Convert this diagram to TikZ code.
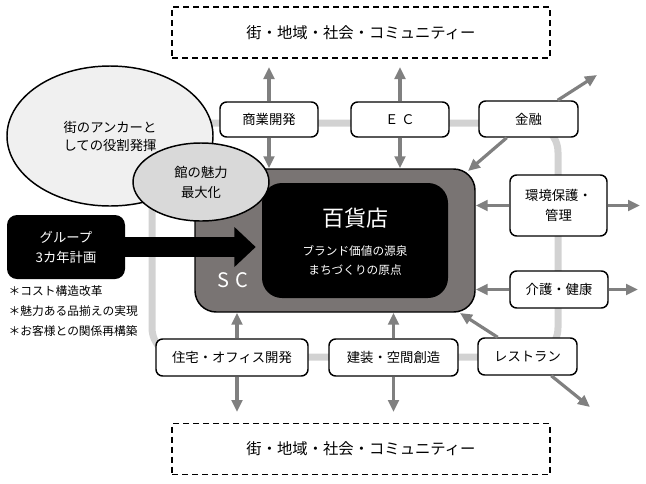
\documentclass[tikz,border=0pt]{standalone}
\usepackage{fontspec}
\setmainfont{Noto Sans CJK JP}
\usepackage{xcolor}
\usetikzlibrary{arrows.meta,shapes.geometric}

\definecolor{linkgray}{RGB}{128,128,128}
\definecolor{ringgray}{RGB}{210,210,210}
\definecolor{scgray}{RGB}{121,116,115}
\definecolor{anchorfill}{RGB}{240,240,240}
\definecolor{charmfill}{RGB}{217,217,217}

\tikzset{
  bizbox/.style={draw, fill=white, line width=1.1pt, rounded corners=5pt, inner sep=2pt, align=center, font=\fontsize{10}{15}\selectfont},
  townbox/.style={draw, dash pattern=on 4.5pt off 3pt, line width=0.9pt, minimum width=283.5pt, minimum height=38.25pt, font=\fontsize{11.5}{14}\selectfont},
  link/.style={linkgray, line width=2.4pt, -{Triangle[length=9pt,width=8pt]}},
}

\begin{document}
\begin{tikzpicture}[x=0.75pt,y=0.75pt,yscale=-1,xscale=1]
            \useasboundingbox (0,0) rectangle (646,483);

            %Rounded Rect: ring
            \draw [ringgray, line width=5.25pt, rounded corners=22pt] (152,123) rectangle (558,357);

            %Shape: SC and store
            \node [draw, fill=scgray, line width=1.1pt, rounded corners=16pt, minimum width=210pt, minimum height=107.25pt] (sc) at (335,240.5) {};
            \node [fill=black, rounded corners=15pt, minimum width=139.5pt, minimum height=86.25pt] (store) at (355,240.5) {};

            %Shape: business boxes
            \node [bizbox, minimum width=73.5pt, minimum height=26.25pt] (shogyo) at (269,119.5) {商業開発};
            \node [bizbox, minimum width=73.5pt, minimum height=26.25pt] (ec) at (400,119.5) {Ｅ Ｃ};
            \node [bizbox, minimum width=74.25pt, minimum height=27pt] (kinyu) at (528.5,119) {金融};
            \node [bizbox, minimum width=72.75pt, minimum height=45.75pt] (kankyo) at (558.5,205.5) {環境保護・\\管理};
            \node [bizbox, minimum width=73.5pt, minimum height=27.75pt] (kaigo) at (559,289.5) {介護・健康};
            \node [bizbox, minimum width=74.25pt, minimum height=27.75pt] (rest) at (527.5,356.5) {レストラン};
            \node [bizbox, minimum width=96.75pt, minimum height=27.75pt] (kenso) at (393.5,357.5) {建装・空間創造};
            \node [bizbox, minimum width=114pt, minimum height=27.75pt] (jutaku) at (232,357.5) {住宅・オフィス開発};

            %Shape: dashed boxes
            \node [townbox] (towntop) at (361,32.5) {街・地域・社会・コミュニティー};
            \node [townbox] (townbot) at (361,449) {街・地域・社会・コミュニティー};

            %free ends
            \coordinate (shogyoUp) at (269,67);
            \coordinate (ecUp) at (400,67);
            \coordinate (kinyuUp) at (597,75);
            \coordinate (kinyuDn) at (468,171);
            \coordinate (kankyoOut) at (640,205.5);
            \coordinate (kaigoOut) at (638,289.5);
            \coordinate (restIn) at (460,313);
            \coordinate (restOut) at (590,407);
            \coordinate (kensoDn) at (393.5,412);
            \coordinate (jutakuDn) at (237,412);
            \coordinate (jutakuTop) at ([xshift=3.75pt]jutaku.north);
            \coordinate (jutakuBot) at ([xshift=3.75pt]jutaku.south);

            %Arrows
            \draw [link] (shogyo) -- (shogyoUp);
            \draw [link] (shogyo) -- (shogyo |- sc.north);
            \draw [link] (ec) -- (ecUp);
            \draw [link] (ec) -- (ec |- sc.north);
            \draw [link] (kinyu) -- (kinyuUp);
            \draw [link] (kinyu) -- (kinyuDn);
            \draw [link] (kankyo) -- (kankyo -| sc.east);
            \draw [link] (kankyo) -- (kankyoOut);
            \draw [link] (kaigo) -- (kaigo -| sc.east);
            \draw [link] (kaigo) -- (kaigoOut);
            \draw [link] (rest) -- (restIn);
            \draw [link] (rest) -- (restOut);
            \draw [link] (kenso) -- (kenso |- sc.south);
            \draw [link] (kenso) -- (kensoDn);
            \draw [link] (jutakuTop) -- (jutakuTop |- sc.south);
            \draw [link] (jutakuBot) -- (jutakuDn);

            %Shape: group plan and big arrow
            \node [fill=black, rounded corners=7.5pt, minimum width=88.5pt, minimum height=48pt, text=white, align=center, font=\fontsize{10}{15}\selectfont] (group) at (66,247) {グループ\\3カ年計画};
            \draw [line width=15pt, shorten >=4.5pt, -{Triangle[length=16pt,width=29pt]}] (group.east) -- (group.east -| store.west);

            %Shape: Ellipses
            \node [draw, ellipse, fill=anchorfill, line width=1.1pt, minimum width=154.5pt, minimum height=105pt, align=center, font=\fontsize{10}{13.5}\selectfont] (anchor) at (110,136) {街のアンカーと\\しての役割発揮};
            \node [draw, ellipse, fill=charmfill, line width=1.1pt, minimum width=102pt, minimum height=58.5pt, align=center, font=\fontsize{10}{15}\selectfont] (charm) at (201,182) {館の魅力\\最大化};

            % Text Node
            \node [text=white, font=\fontsize{16.5}{20}\selectfont] (title) at (355,218) {百貨店};
            % Text Node
            \node [text=white, align=center, font=\fontsize{8.75}{14}\selectfont] (motto) at (355,260.5) {ブランド価値の源泉\\まちづくりの原点};
            % Text Node
            \node [text=white, font=\fontsize{15}{18}\selectfont] (sclabel) at (233,280) {S\hspace{5pt}C};
            % Text Node
            \node [anchor=west, align=left, font=\fontsize{8.8}{15}\selectfont] (reform) at (4,311) {＊コスト構造改革\\＊魅力ある品揃えの実現\\＊お客様との関係再構築};

\end{tikzpicture}
\end{document}
